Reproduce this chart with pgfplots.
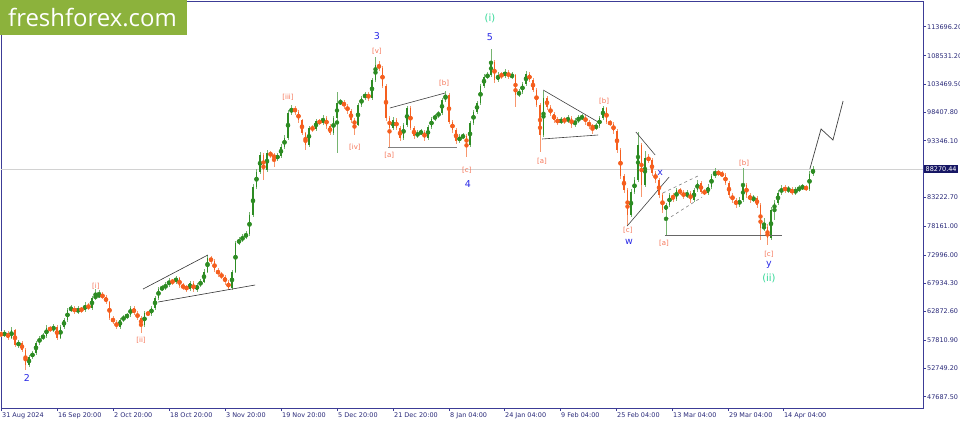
\documentclass[border=0pt]{standalone}
\usepackage{pgfplots}
\pgfplotsset{compat=1.18}
\usepackage{pgfplotstable}
\usepackage{fontspec}
\setmainfont{DejaVu Sans}
\newfontfamily\logofont{Open Sans}
\definecolor{upc}{RGB}{45,140,35}
\definecolor{dnc}{RGB}{245,95,30}
\definecolor{framec}{RGB}{60,60,150}
\definecolor{lblc}{RGB}{40,40,120}
\definecolor{salm}{RGB}{245,115,85}
\definecolor{ewblue}{RGB}{40,40,230}
\definecolor{mint}{RGB}{50,215,150}
\definecolor{logog}{RGB}{140,178,60}
\definecolor{navyb}{RGB}{22,22,100}

\pgfplotstableread{
d o h l c
0 58900 59400 58300 58700
1 58700 59500 58300 59050
2 59050 59400 57800 58160
3 58160 60050 57900 59590
4 59590 59800 56500 56910
5 56910 57800 56400 57270
6 57270 57600 55600 56020
7 56020 56300 52450 53340
8 53340 55100 53000 54770
9 54770 55900 54400 55490
10 55490 57700 55200 57270
11 57270 58600 56900 58160
12 58160 59000 57800 58520
13 58520 60400 58200 59950
14 59950 60300 59200 59590
15 59590 60600 59300 60120
16 60120 60400 57800 58160
17 58160 60500 57900 60120
18 60120 61800 59800 61370
19 61370 63600 61000 63160
20 63160 64000 62800 63510
21 63510 63900 62400 62800
22 62800 63800 62500 63330
23 63330 63700 62700 63160
24 63160 64500 62800 64050
25 64050 64400 63100 63510
26 63510 65700 63200 65300
27 65300 66900 64900 65650
28 65650 66700 65300 65830
29 65830 66300 65100 65480
30 65480 65800 64200 64580
31 64580 64800 61300 61730
32 61730 62100 60600 61020
33 61020 61400 59700 60120
34 60120 61800 59800 61370
35 61370 62300 61000 61910
36 61910 62700 61500 62260
37 62260 63900 61900 63510
38 63510 63800 62200 62620
39 62620 63000 61300 61730
40 61730 62000 59050 60480
41 60480 63000 60200 62620
42 62620 63000 62000 62450
43 62450 63900 62100 63510
44 63510 65700 63200 65300
45 65300 67300 65000 66900
46 66900 67600 66500 67080
47 67080 68100 66700 67620
48 67620 68800 67300 68330
49 68330 68700 67700 68150
50 68150 69300 67800 68870
51 68870 69100 67000 67440
52 67440 67900 66800 67260
53 67260 67700 66400 66900
54 66900 68400 66500 67970
55 67970 68300 66300 66720
56 66720 68000 66400 67620
57 67620 68600 67300 68150
58 68150 70400 67900 69940
59 69940 72970 69700 72430
60 72430 72800 71400 71900
61 71900 72200 69900 70290
62 70290 70700 69100 69580
63 69580 70000 68600 69040
64 69040 69400 67700 68150
65 68150 68500 66720 67080
66 67080 70300 66800 69940
67 69940 75500 69700 75110
68 75110 76100 74700 75640
69 75640 76700 75200 76180
70 76180 77200 75800 76710
71 76710 80600 76400 80100
72 80100 85600 79800 85100
73 85100 88300 84800 87780
74 87780 91300 87400 90810
75 90810 91100 86300 88130
76 88130 91700 87800 91170
77 91170 91600 90200 90810
78 90810 91200 88700 90270
79 90270 91100 89800 90630
80 90630 92700 90300 92240
81 92240 94300 91900 93840
82 93840 98800 93500 98300
83 98300 99800 97900 99190
84 99190 99600 98000 98480
85 98480 98800 96600 97050
86 97050 97300 94300 94730
87 94730 95000 91700 92590
88 92590 96000 92300 95630
89 95630 96100 95000 95450
90 95450 97300 95100 96870
91 96870 97300 96100 96520
92 96520 97900 96200 97410
93 97410 97800 95500 95980
94 95980 96300 94300 94730
95 94730 97800 94400 97410
96 97410 102050 91170 100090
97 100090 100800 99700 100250
98 100250 100600 99100 99550
99 99550 99900 98200 98660
100 98660 99000 96600 97050
101 97050 97400 94380 96160
102 96160 100100 95900 99730
103 99730 101400 99400 100980
104 100980 102100 100600 101690
105 101690 102000 100500 100980
106 100980 104600 100700 104190
107 104190 108290 103900 106860
108 106860 107500 105800 106330
109 106330 106600 102700 103120
110 103120 103400 96900 97410
111 97410 97800 92240 95630
112 95630 97500 95200 97050
113 97050 97400 95200 95630
114 95630 96000 93300 93840
115 93840 96600 93500 96160
116 96160 99600 95800 99190
117 99190 99500 95200 95630
118 95630 96000 93700 94200
119 94200 95200 93800 94730
120 94730 95400 94300 94910
121 94910 95300 93300 93840
122 93840 96200 93500 95800
123 95800 97600 95400 97230
124 97230 98200 96800 97770
125 97770 98700 97400 98300
126 98300 101000 98000 100620
127 100620 102230 100200 101510
128 101510 101800 96300 96700
129 96700 97100 94800 95270
130 95270 95600 92800 93310
131 93310 94500 92900 94020
132 94020 94700 93600 94200
133 94200 94600 90450 92590
134 92590 96900 92300 96520
135 96520 98900 96200 98480
136 98480 100500 98100 100090
137 100090 103500 99800 103120
138 103120 105200 102800 104720
139 104720 105600 104300 105080
140 105080 109720 104800 107400
141 107400 107700 103700 104190
142 104190 105600 103800 105080
143 105080 105700 104400 104900
144 104900 106100 104500 105620
145 105620 106000 104300 104720
146 104720 105600 104300 105080
147 105080 105300 99400 101510
148 101510 102600 101100 102050
149 102050 103900 101700 103470
150 103470 105800 103100 105260
151 105260 105600 103800 104190
152 104190 104500 102000 102400
153 102400 102700 99300 99730
154 99730 100000 91340 94380
155 94380 102230 94100 100980
156 100980 101300 98900 99370
157 99370 99700 97700 98120
158 98120 98500 96600 97050
159 97050 97500 96200 96700
160 96700 97500 96300 97050
161 97050 97600 96400 96870
162 96870 97900 96500 97410
163 97410 97800 95700 96160
164 96160 97400 95800 96870
165 96870 98000 96500 97410
166 97410 98100 97000 97590
167 97590 98000 96200 96700
168 96700 97100 95500 95980
169 95980 96400 94600 95630
170 95630 96500 95200 95980
171 95980 97800 95600 97410
172 97410 99550 97000 99190
173 99190 99400 96300 96700
174 96700 97100 95900 96340
175 96340 96700 94600 95090
176 95090 95400 91200 91700
177 91700 92000 86600 87060
178 87060 87400 84000 84560
179 84560 84900 78320 80100
180 80100 84700 79800 84210
181 84210 86800 83900 86350
182 86350 94910 86000 92590
183 92590 92900 83320 85460
184 85460 91500 85100 90270
185 90270 91000 89300 89920
186 89920 90300 87100 87600
187 87600 88000 85900 86350
188 86350 86700 83200 83670
189 83670 84000 80500 81000
190 81000 82300 76540 81890
191 81890 84100 81500 83670
192 83670 84000 82400 82960
193 82960 85000 82600 84560
194 84560 85000 83600 84030
195 84030 84500 83000 83490
196 83490 84500 83100 84030
197 84030 84400 82300 82780
198 82780 85000 82400 84560
199 84560 86300 84200 85810
200 85810 86200 83800 84210
201 84210 84700 83600 84100
202 84100 85600 83700 85100
203 85100 87500 84800 87060
204 87060 88490 86700 87780
205 87780 88200 87000 87420
206 87420 87900 86800 87240
207 87240 87600 85400 85810
208 85810 86100 83200 83670
209 83670 84000 82300 82780
210 82780 83200 81400 81890
211 81890 83300 81500 82780
212 82780 88490 82400 85460
213 85460 85800 83200 83670
214 83670 84100 82300 82780
215 82780 83700 82400 83140
216 83140 83500 81400 81890
217 81890 82200 75640 77790
218 77790 79500 77300 78000
219 78000 78500 74750 76000
220 76000 81500 75700 81000
221 81000 82700 79300 82250
222 82250 84500 81900 84030
223 84030 85400 83600 84920
224 84920 85400 84100 84560
225 84560 85200 84100 84700
226 84700 85100 83600 84030
227 84030 85100 83700 84560
228 84560 85400 84200 84920
229 84920 85600 84600 85100
230 85100 85500 84300 84740
231 84740 87900 84400 87420
232 87420 88800 87100 88270
}\candles

\begin{document}
\begin{tikzpicture}
\begin{axis}[
  at={(1bp,-1bp)}, anchor=north west,
  scale only axis, width=922bp, height=407bp,
  xmin=0, xmax=263.43, ymin=45673, ymax=118282,
  clip=false,
  axis line style={draw=framec, line width=0.8bp},
  tick style={draw=framec, line width=0.6bp},
  major tick length=3bp,
  tick align=outside,
  xtick pos=lower, ytick pos=right,
  xtick={0,16,32,48,64,80,96,112,128,143.7,159.7,175.7,191.7,207.7,223.4},
  xticklabels={31 Aug 2024,16 Sep 20:00,2 Oct 20:00,18 Oct 20:00,3 Nov 20:00,19 Nov 20:00,5 Dec 20:00,21 Dec 20:00,8 Jan 04:00,24 Jan 04:00,9 Feb 04:00,25 Feb 04:00,13 Mar 04:00,29 Mar 04:00,14 Apr 04:00},
  ytick={47687.5,52749.2,57810.9,62872.6,67934.3,72996,78161,83222.7,93346.1,98407.8,103469.5,108531.2,113696.2},
  yticklabels={47687.50,52749.20,57810.90,62872.60,67934.30,72996.00,78161.00,83222.70,93346.10,98407.80,103469.50,108531.20,113696.20},
  ticklabel style={font=\fontsize{6.5}{7}\selectfont, text=lblc, inner sep=1bp},
  xticklabel style={anchor=north west, xshift=0bp},
  yticklabel style={anchor=west},
]
\addplot[forget plot, gray!35, line width=0.6bp] coordinates {(0,88270.44) (263.43,88270.44)};

% up candles: wick and body
\addplot[forget plot, only marks, mark=none, upc,
  restrict expr to domain={\thisrow{c}-\thisrow{o}}{0:10000000},
  error bars/.cd, y dir=both, y explicit, error mark=none,
  error bar style={draw=upc!65, solid, line width=0.5bp}]
  table[x=d, y expr={0.5*(\thisrow{h}+\thisrow{l})}, y error expr={0.5*(\thisrow{h}-\thisrow{l})}] {\candles};
\addplot[forget plot, only marks, mark=none, upc,
  restrict expr to domain={\thisrow{c}-\thisrow{o}}{0:10000000},
  error bars/.cd, y dir=both, y explicit, error mark=none,
  error bar style={draw=upc, solid, line width=1.5bp}]
  table[x=d, y expr={0.5*(\thisrow{o}+\thisrow{c})}, y error expr={0.5*(\thisrow{c}-\thisrow{o})}] {\candles};
% down candles
\addplot[forget plot, only marks, mark=none, dnc,
  restrict expr to domain={\thisrow{o}-\thisrow{c}}{0.001:10000000},
  error bars/.cd, y dir=both, y explicit, error mark=none,
  error bar style={draw=dnc!65, solid, line width=0.5bp}]
  table[x=d, y expr={0.5*(\thisrow{h}+\thisrow{l})}, y error expr={0.5*(\thisrow{h}-\thisrow{l})}] {\candles};
\addplot[forget plot, only marks, mark=none, dnc,
  restrict expr to domain={\thisrow{o}-\thisrow{c}}{0.001:10000000},
  error bars/.cd, y dir=both, y explicit, error mark=none,
  error bar style={draw=dnc, solid, line width=1.5bp}]
  table[x=d, y expr={0.5*(\thisrow{o}+\thisrow{c})}, y error expr={0.5*(\thisrow{o}-\thisrow{c})}] {\candles};

% wave lines
\addplot[forget plot, black!80, line width=0.6bp] coordinates {(40.6,66902) (59.1,72969)};
\addplot[forget plot, black!80, line width=0.6bp] coordinates {(44.9,64583) (72.6,67616)};
\addplot[forget plot, black!75, line width=0.6bp] coordinates {(111.1,99193) (126.9,101869)};
\addplot[forget plot, gray, line width=0.7bp] coordinates {(110.6,92235) (130.3,92235)};
\addplot[forget plot, black!75, line width=0.6bp] coordinates {(154.9,102404) (170.6,96695)};
\addplot[forget plot, black!75, line width=0.6bp] coordinates {(154.6,93662) (170.6,94376)};
\addplot[forget plot, black!75, line width=0.6bp] coordinates {(178.9,78141) (190.9,86883)};
\addplot[forget plot, black!75, line width=0.6bp] coordinates {(181.4,94911) (186.9,90808)};
\addplot[forget plot, gray, dashed, line width=0.6bp] coordinates {(189.1,84029) (199.7,87240)};
\addplot[forget plot, gray, dashed, line width=0.6bp] coordinates {(190,79212) (200.3,83315)};
\addplot[forget plot, gray!80!black, line width=0.7bp] coordinates {(189.7,76536) (223.1,76536)};
\addplot[forget plot, black!75, line width=0.7bp] coordinates {(231.1,88310) (234.3,95446) (237.7,93484) (240.6,100442)};

% labels
\tikzset{sl/.style={text=salm, font=\fontsize{7}{7}\selectfont, inner sep=0pt},
         bl/.style={text=ewblue, font=\fontsize{9.5}{10}\selectfont, inner sep=0pt},
         ml/.style={text=mint, font=\fontsize{10}{10}\selectfont, inner sep=0pt}}
\node[bl] at (axis cs:7.4,51000) {2};
\node[sl] at (axis cs:27.1,67440) {[i]};
\node[sl] at (axis cs:40,57804) {[ii]};
\node[sl] at (axis cs:82,101155) {[iii]};
\node[sl] at (axis cs:101.1,92235) {[iv]};
\node[sl] at (axis cs:107.4,109362) {[v]};
\node[bl] at (axis cs:107.4,112038) {3};
\node[sl] at (axis cs:110.9,90808) {[a]};
\node[sl] at (axis cs:126.6,103653) {[b]};
\node[sl] at (axis cs:133.1,88132) {[c]};
\node[bl] at (axis cs:133.4,85634) {4};
\node[bl] at (axis cs:139.7,111859) {5};
\node[ml] at (axis cs:139.7,115249) {(i)};
\node[sl] at (axis cs:154.6,89738) {[a]};
\node[sl] at (axis cs:172.3,100442) {[b]};
\node[sl] at (axis cs:179.1,77428) {[c]};
\node[bl] at (axis cs:179.4,75287) {w};
\node[bl] at (axis cs:188.3,87597) {x};
\node[sl] at (axis cs:189.4,75109) {[a]};
\node[sl] at (axis cs:212.3,89381) {[b]};
\node[sl] at (axis cs:219.4,73146) {[c]};
\node[bl] at (axis cs:219.4,71184) {y};
\node[ml] at (axis cs:219.4,68865) {(ii)};
\coordinate (pb) at (axis cs:263.43,88270.44);
\end{axis}
\node[anchor=west, fill=navyb, text=white, font=\fontsize{6.5}{7}\selectfont, inner sep=1.5bp, xshift=1bp] at (pb) {88270.44};
\fill[logog] (0,0) rectangle (187bp,-35bp);
\node[anchor=base west, text=white, font=\logofont\fontsize{24}{24}\selectfont, inner sep=0pt] at (8bp,-26bp) {freshforex.com};
\pgfresetboundingbox
\useasboundingbox (0,0) rectangle (960bp,-421bp);
\end{tikzpicture}
\end{document}
